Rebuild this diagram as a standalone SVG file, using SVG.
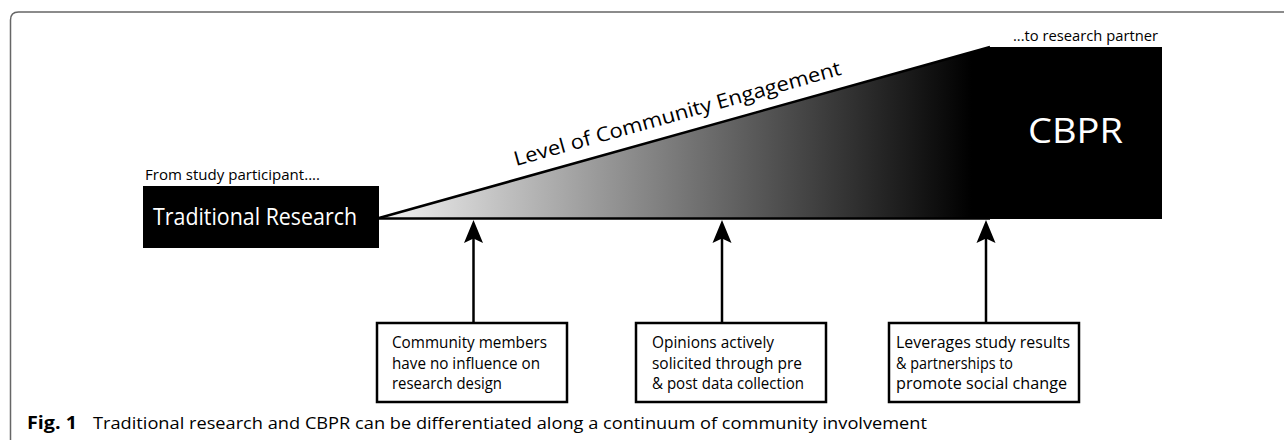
<svg xmlns="http://www.w3.org/2000/svg" xmlns:xlink="http://www.w3.org/1999/xlink" width="1284" height="440" viewBox="0 0 1284 440">
<style>
text{font-family:"Open Sans","Noto Sans","Liberation Sans",sans-serif;fill:#000}
.w{fill:#fff}
.box{fill:#fff;stroke:#000;stroke-width:2.5}
.conn{stroke:#000;stroke-width:2.5;fill:none}
.bt{font-size:15.5px}
</style>
<defs>
<linearGradient id="g" gradientUnits="userSpaceOnUse" x1="382" y1="0" x2="990" y2="0">
<stop offset="0" stop-color="#f2f2f2"/>
<stop offset="0.97" stop-color="#000"/>
</linearGradient>
<path id="ah" d="M0,0 L9.5,23 L0,18.5 L-9.5,23 Z" fill="#000"/>
</defs>
<rect width="1284" height="440" fill="#fff"/>
<path d="M10.5,440 V20 Q10.5,12 18.5,12 H1284" fill="none" stroke="#666" stroke-width="1.5"/>

<g id="wedge">
<polygon points="380,218 990,47 990,219 380,219" fill="url(#g)"/>
<path d="M379,218 L990,47" class="conn" stroke-width="2.2"/>
<text x="516" y="166" font-size="20" transform="rotate(-15.66 516 166)" textLength="339" lengthAdjust="spacingAndGlyphs">Level of Community Engagement</text>
</g>

<g id="traditional">
<text x="145" y="180" font-size="14.5" textLength="175" lengthAdjust="spacingAndGlyphs">From study participant....</text>
<rect x="143" y="186" width="236" height="62" fill="#000"/>
<text class="w" x="153" y="225" font-size="24" textLength="204" lengthAdjust="spacingAndGlyphs">Traditional Research</text>
</g>

<g id="cbpr">
<text x="1158" y="41" font-size="14.5" text-anchor="end" textLength="145" lengthAdjust="spacingAndGlyphs">...to research partner</text>
<rect x="990" y="47" width="172" height="172" fill="#000"/>
<text class="w" x="1028" y="143" font-size="35" textLength="95" lengthAdjust="spacingAndGlyphs">CBPR</text>
</g>

<g id="connectors">
<line x1="379" y1="218.5" x2="990" y2="218.5" class="conn"/>
<line x1="473.5" y1="323" x2="473.5" y2="235" class="conn"/>
<use xlink:href="#ah" x="473.5" y="220"/>
<line x1="722" y1="323" x2="722" y2="235" class="conn"/>
<use xlink:href="#ah" x="722" y="220"/>
<line x1="986" y1="323" x2="986" y2="235" class="conn"/>
<use xlink:href="#ah" x="986" y="220"/>
</g>

<g id="box1">
<rect class="box" x="377" y="323" width="190" height="79"/>
<text class="bt" x="392" y="348" textLength="155" lengthAdjust="spacingAndGlyphs">Community members</text>
<text class="bt" x="392" y="369" textLength="148" lengthAdjust="spacingAndGlyphs">have no influence on</text>
<text class="bt" x="392" y="389" textLength="110" lengthAdjust="spacingAndGlyphs">research design</text>
</g>

<g id="box2">
<rect class="box" x="636" y="323" width="190" height="79"/>
<text class="bt" x="652" y="348" textLength="122" lengthAdjust="spacingAndGlyphs">Opinions actively</text>
<text class="bt" x="652" y="369" textLength="150" lengthAdjust="spacingAndGlyphs">solicited through pre</text>
<text class="bt" x="652" y="389" textLength="152" lengthAdjust="spacingAndGlyphs">&amp; post data collection</text>
</g>

<g id="box3">
<rect class="box" x="889" y="323" width="190" height="79"/>
<text class="bt" x="896" y="348" textLength="174" lengthAdjust="spacingAndGlyphs">Leverages study results</text>
<text class="bt" x="896" y="369" textLength="117" lengthAdjust="spacingAndGlyphs">&amp; partnerships to</text>
<text class="bt" x="896" y="389" textLength="171" lengthAdjust="spacingAndGlyphs">promote social change</text>
</g>

<g id="caption">
<text x="27" y="429" font-size="17" font-weight="bold" textLength="50" lengthAdjust="spacingAndGlyphs">Fig. 1</text>
<text x="93" y="429" font-size="17" textLength="834" lengthAdjust="spacingAndGlyphs">Traditional research and CBPR can be differentiated along a continuum of community involvement</text>
</g>
</svg>
